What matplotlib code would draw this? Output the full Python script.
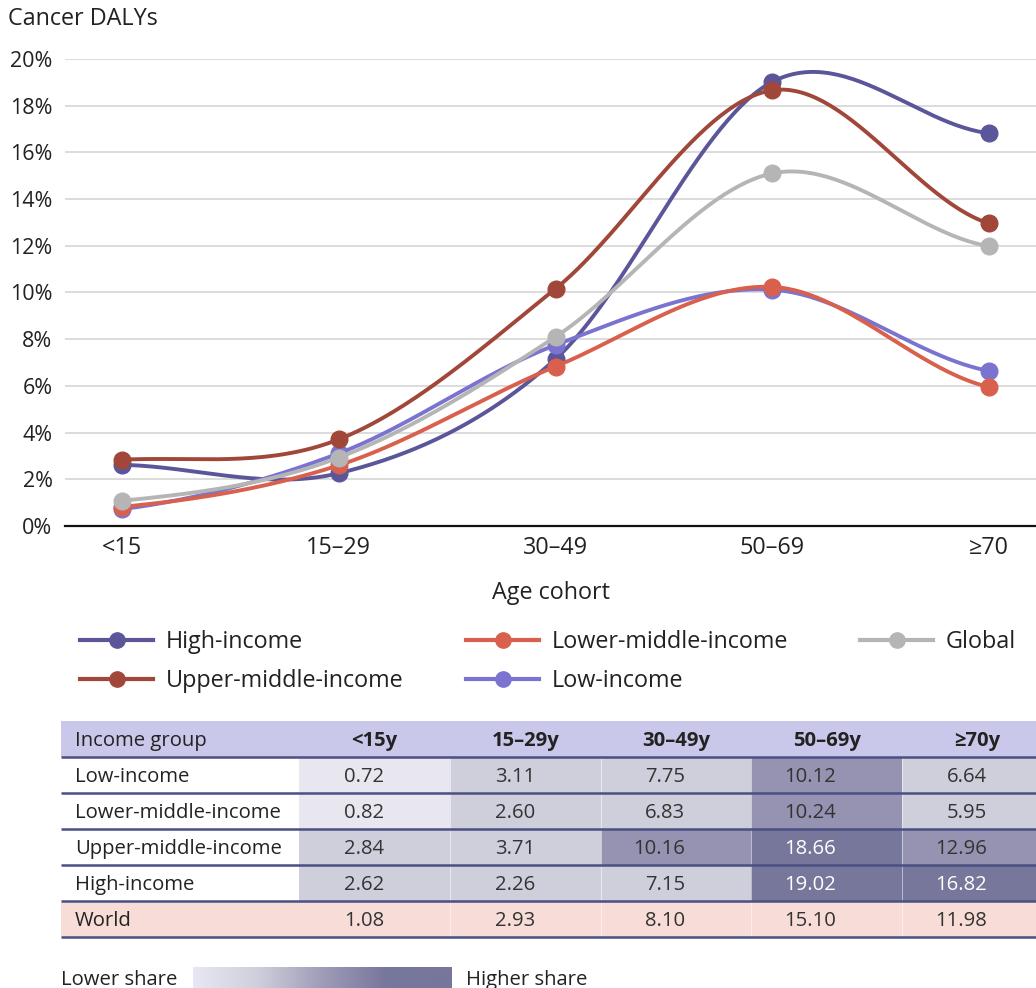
import numpy as np
import matplotlib
matplotlib.use("Agg")
import matplotlib.pyplot as plt
from matplotlib.colors import LinearSegmentedColormap

plt.rcParams['font.family'] = ['Open Sans', 'Noto Sans', 'DejaVu Sans']

# age cohorts on the x axis and in the table header
cohorts = ["<15", "15–29", "30–49", "50–69", "≥70"]
table_cols = ["<15y", "15–29y", "30–49y", "50–69y", "≥70y"]

# share of cancer DALYs (%) by income group
high_income = [2.62, 2.26, 7.15, 19.02, 16.82]
upper_middle = [2.84, 3.71, 10.16, 18.66, 12.96]
lower_middle = [0.82, 2.60, 6.83, 10.24, 5.95]
low_income = [0.72, 3.11, 7.75, 10.12, 6.64]
world = [1.08, 2.93, 8.10, 15.10, 11.98]

y_ticks = [0, 2, 4, 6, 8, 10, 12, 14, 16, 18, 20]

series = [
    ("High-income", high_income, "#5a5699"),
    ("Low-income", low_income, "#7a74d0"),
    ("Lower-middle-income", lower_middle, "#d9604c"),
    ("Upper-middle-income", upper_middle, "#a1473a"),
    ("Global", world, "#b5b5b5"),
]

table_rows = [
    ("Low-income", low_income),
    ("Lower-middle-income", lower_middle),
    ("Upper-middle-income", upper_middle),
    ("High-income", high_income),
    ("World", world),
]

TXT = "#222222"
W, H = 1036, 988
FS_Y = 15.5   # y tick labels
FS = 16.8     # other chart text
FS_T = 14.6   # table text
DY = 1.5      # nudge for vertically centred text


def catmull_rom(y, n=60):
    y = np.asarray(y, float)
    m = np.empty_like(y)
    m[1:-1] = (y[2:] - y[:-2]) / 2
    m[0] = (y[1] - y[0]) / 2
    m[-1] = (y[-1] - y[-2]) / 2
    xs, ys = [], []
    t = np.linspace(0, 1, n)
    h00 = 2 * t**3 - 3 * t**2 + 1
    h10 = t**3 - 2 * t**2 + t
    h01 = -2 * t**3 + 3 * t**2
    h11 = t**3 - t**2
    for i in range(len(y) - 1):
        xs.append(i + t)
        ys.append(h00 * y[i] + h10 * m[i] + h01 * y[i + 1] + h11 * m[i + 1])
    return np.concatenate(xs), np.concatenate(ys)


def shade(v):
    if v < 1:
        return "#e8e7ef"
    if v < 10:
        return "#cfcfdc"
    if v < 15:
        return "#9593b1"
    return "#77769b"


fig = plt.figure(figsize=(W / 100, H / 100), dpi=100)

# overlay in pixel coordinates for legend, table and key
pax = fig.add_axes([0, 0, 1, 1])
pax.set_xlim(0, W)
pax.set_ylim(H, 0)
pax.axis("off")

# line chart
x_left, x_right = 65, W
x0, dx = 122, 216.75
ax = fig.add_axes([x_left / W, 1 - 526 / H, (x_right - x_left) / W, (526 - 59) / H])
ax.set_xlim((x_left - x0) / dx, (x_right - x0) / dx)
ax.set_ylim(0, 20)
for s in ["top", "right", "left"]:
    ax.spines[s].set_visible(False)
ax.spines["bottom"].set_color("#111111")
ax.spines["bottom"].set_linewidth(1.6)
ax.set_yticks(y_ticks)
ax.set_yticklabels([f"{v}%" for v in y_ticks], fontsize=FS_Y, color=TXT)
ax.set_xticks(range(len(cohorts)))
ax.set_xticklabels(cohorts, fontsize=FS, color=TXT)
ax.tick_params(axis="both", length=0)
ax.tick_params(axis="y", pad=9)
ax.tick_params(axis="x", pad=7)
ax.grid(axis="y", color="#d9d9d9", linewidth=1.3)
ax.set_axisbelow(True)
ax.set_xlabel("Age cohort", fontsize=FS, color=TXT, labelpad=15)

for i, (name, vals, col) in enumerate(series):
    sx, sy = catmull_rom(vals)
    ax.plot(sx, sy, color=col, lw=2.8, zorder=3 + i, clip_on=False, solid_capstyle="round")
    ax.plot(range(len(vals)), vals, "o", color=col, ms=12, zorder=3 + i, clip_on=False)

fig.text(8 / W, 1 - 19 / H, "Cancer DALYs", fontsize=FS, color=TXT, va="center", ha="left")

# legend
legend_pos = {
    "High-income": (80, 640),
    "Upper-middle-income": (80, 679),
    "Lower-middle-income": (466, 640),
    "Low-income": (466, 679),
    "Global": (860, 640),
}
for name, vals, col in series:
    lx, ly = legend_pos[name]
    pax.plot([lx, lx + 73], [ly, ly], color=col, lw=3)
    pax.plot([lx + 36.5], [ly], "o", color=col, ms=11)
    pax.text(lx + 86, ly + DY, name, fontsize=FS, color=TXT, va="center", ha="left")

# table
col_edges = [61, 299, 450, 601, 751, 902, 1053]
top, row_h = 721, 36
pax.add_patch(plt.Rectangle((col_edges[0], top), col_edges[-1] - col_edges[0], row_h,
                            facecolor="#cac8ea", edgecolor="none"))
pax.text(75, top + row_h / 2 + DY, "Income group", fontsize=FS_T, color=TXT, va="center")
for j, c in enumerate(table_cols):
    cx = (col_edges[j + 1] + col_edges[j + 2]) / 2
    pax.text(cx, top + row_h / 2 + DY, c, fontsize=FS_T, color=TXT, va="center", ha="center",
             fontweight="bold")

for r, (name, vals) in enumerate(table_rows):
    y = top + row_h * (r + 1)
    is_world = name == "World"
    if is_world:
        pax.add_patch(plt.Rectangle((col_edges[0], y), col_edges[-1] - col_edges[0], row_h,
                                    facecolor="#f7dcd8", edgecolor="none"))
    pax.text(75, y + row_h / 2 + DY, name, fontsize=FS_T, color=TXT, va="center")
    for j, v in enumerate(vals):
        xl, xr = col_edges[j + 1], col_edges[j + 2]
        if not is_world:
            pax.add_patch(plt.Rectangle((xl, y), xr - xl, row_h, facecolor=shade(v),
                                        edgecolor="none"))
        tc = "white" if (v >= 15 and not is_world) else "#333333"
        pax.text(xr - 66, y + row_h / 2 + DY, f"{v:.2f}", fontsize=FS_T, color=tc,
                 va="center", ha="right")
    for xe in col_edges[2:-1]:
        pax.plot([xe, xe], [y + 1, y + row_h - 1], color="white", lw=0.6, alpha=0.6)

for r in range(1, len(table_rows) + 2):
    y = top + row_h * r
    pax.plot([col_edges[0], W], [y, y], color="#4b4f82", lw=1.8, solid_capstyle="butt")

# colour key
grad = LinearSegmentedColormap.from_list("share", ["#e8e8f5", "#cfcfdc", "#9e9cb8", "#77769b", "#77769b"])
gx = np.linspace(0, 1, 256).reshape(1, -1)
pax.imshow(gx, cmap=grad, extent=(193, 452, 992, 967), aspect="auto", zorder=1)
pax.set_xlim(0, W)
pax.set_ylim(H, 0)
pax.text(177, 978 + DY, "Lower share", fontsize=FS_T, color=TXT, va="center", ha="right")
pax.text(466, 978 + DY, "Higher share", fontsize=FS_T, color=TXT, va="center", ha="left")

fig.savefig("out.png", dpi=100)
